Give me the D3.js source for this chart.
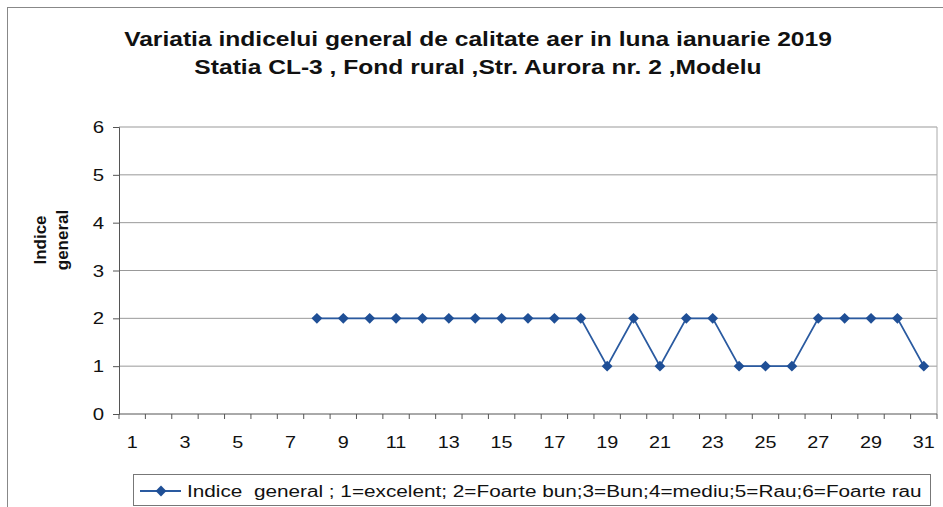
<!DOCTYPE html>
<html lang="en">
<head>
<meta charset="utf-8">
<title>Indice general CL-3</title>
<script src="https://d3js.org/d3.v7.min.js"></script>
<style>
  body { margin: 0; background: #fff; }
  text { font-family: Arial, "Liberation Sans", sans-serif; fill: #111; }
</style>
</head>
<body>
<div id="chart"></div>
<script>
// days of january 2019
var days = d3.range(1, 32);
// general index per day (null = no data)
var indice = [null, null, null, null, null, null, null,
  2, 2, 2, 2, 2, 2, 2, 2, 2, 2, 2,
  1, 2, 1, 2, 2, 1, 1, 1, 2, 2, 2, 2, 1];
var yTicks = [0, 1, 2, 3, 4, 5, 6];
var xLabels = days.filter(function(d) { return d % 2 === 1; });
var titleLines = ["Variatia indicelui general de calitate aer in luna ianuarie 2019",
  "Statia CL-3 , Fond rural ,Str. Aurora nr. 2 ,Modelu"];
var legendText = "Indice\u00a0 general ; 1=excelent; 2=Foarte bun;3=Bun;4=mediu;5=Rau;6=Foarte rau";

var W = 943, H = 507;
var SX = 1.2; // the original text is a little wide
var margin = { top: 127, right: 6, bottom: 93, left: 119 };
var width = W - margin.left - margin.right;
var height = H - margin.top - margin.bottom;

var svg = d3.select("#chart").append("svg")
  .attr("width", W).attr("height", H);

// text helper, stretched horizontally
function wtext(parent, x, y, str, size, anchor, bold) {
  return parent.append("text")
    .attr("transform", "translate(" + x + "," + y + ") scale(" + SX + ",1)")
    .attr("text-anchor", anchor || "middle")
    .style("font-size", size + "px")
    .style("font-weight", bold ? "bold" : "normal")
    .text(str);
}

// outer frame
svg.append("rect")
  .attr("x", 7.5).attr("y", 7.5)
  .attr("width", W - 6).attr("height", H)
  .attr("fill", "none").attr("stroke", "#888");

titleLines.forEach(function(t, i) {
  wtext(svg, 478, 46 + i * 28, t, 20.5, "middle", true);
});

var g = svg.append("g").attr("transform", "translate(" + margin.left + "," + margin.top + ")");

var x = d3.scaleBand().domain(days).range([0, width]);
var y = d3.scaleLinear().domain([0, 6]).range([height, 0]);

// gridlines
g.selectAll(".grid").data(yTicks.slice(1)).enter().append("line")
  .attr("x1", 0).attr("x2", width)
  .attr("y1", function(d) { return y(d); }).attr("y2", function(d) { return y(d); })
  .attr("stroke", "#999").attr("stroke-width", 1);

// right border of plot
g.append("line").attr("x1", width).attr("x2", width).attr("y1", 0).attr("y2", height)
  .attr("stroke", "#aaa");

// y axis
var yAxis = g.append("g").call(d3.axisLeft(y).tickValues(yTicks).tickSize(6).tickFormat(""));
yAxis.select(".domain").attr("stroke", "#555");
yAxis.selectAll(".tick line").attr("stroke", "#555");
yTicks.forEach(function(v) {
  wtext(g, -15, y(v) + 6, v, 17, "end", false);
});

// x axis: ticks between categories
var xg = g.append("g").attr("transform", "translate(0," + height + ")");
xg.append("line").attr("x1", 0).attr("x2", width).attr("stroke", "#555");
xg.selectAll(".xt").data(d3.range(0, 32)).enter().append("line")
  .attr("x1", function(d) { return d * x.bandwidth(); })
  .attr("x2", function(d) { return d * x.bandwidth(); })
  .attr("y1", 0).attr("y2", 5).attr("stroke", "#555");
xLabels.forEach(function(d) {
  wtext(xg, x(d) + x.bandwidth() / 2, 34, d, 16.5, "middle", false);
});

// y title
var yt = svg.append("text")
  .attr("transform", "translate(46,240) rotate(-90)")
  .attr("text-anchor", "middle")
  .style("font-weight", "bold").style("font-size", "17px");
yt.append("tspan").attr("x", 0).attr("dy", 0).text("Indice");
yt.append("tspan").attr("x", 0).attr("dy", 22).text("general");

// series
var pts = days.map(function(d, i) { return { day: d, v: indice[i] }; })
  .filter(function(d) { return d.v !== null; });
var line = d3.line()
  .x(function(d) { return x(d.day) + x.bandwidth() / 2; })
  .y(function(d) { return y(d.v); });
g.append("path").datum(pts).attr("d", line)
  .attr("fill", "none").attr("stroke", "#2a5aa0").attr("stroke-width", 1.8);
var diamond = d3.symbol().type(d3.symbolDiamond2).size(75);
g.selectAll(".pt").data(pts).enter().append("path")
  .attr("d", diamond)
  .attr("transform", function(d) { return "translate(" + (x(d.day) + x.bandwidth() / 2) + "," + y(d.v) + ")"; })
  .attr("fill", "#1f4f96");

// legend
var lg = svg.append("g").attr("transform", "translate(133,474)");
lg.append("rect").attr("x", 0.5).attr("y", 0.5).attr("width", 797).attr("height", 31)
  .attr("fill", "#fff").attr("stroke", "#777");
lg.append("line").attr("x1", 7).attr("x2", 48).attr("y1", 17).attr("y2", 17)
  .attr("stroke", "#2a5aa0").attr("stroke-width", 1.8);
lg.append("path").attr("d", diamond).attr("transform", "translate(28,17)").attr("fill", "#1f4f96");
wtext(lg, 54, 22.5, legendText, 17.3, "start", false);
</script>
</body>
</html>
